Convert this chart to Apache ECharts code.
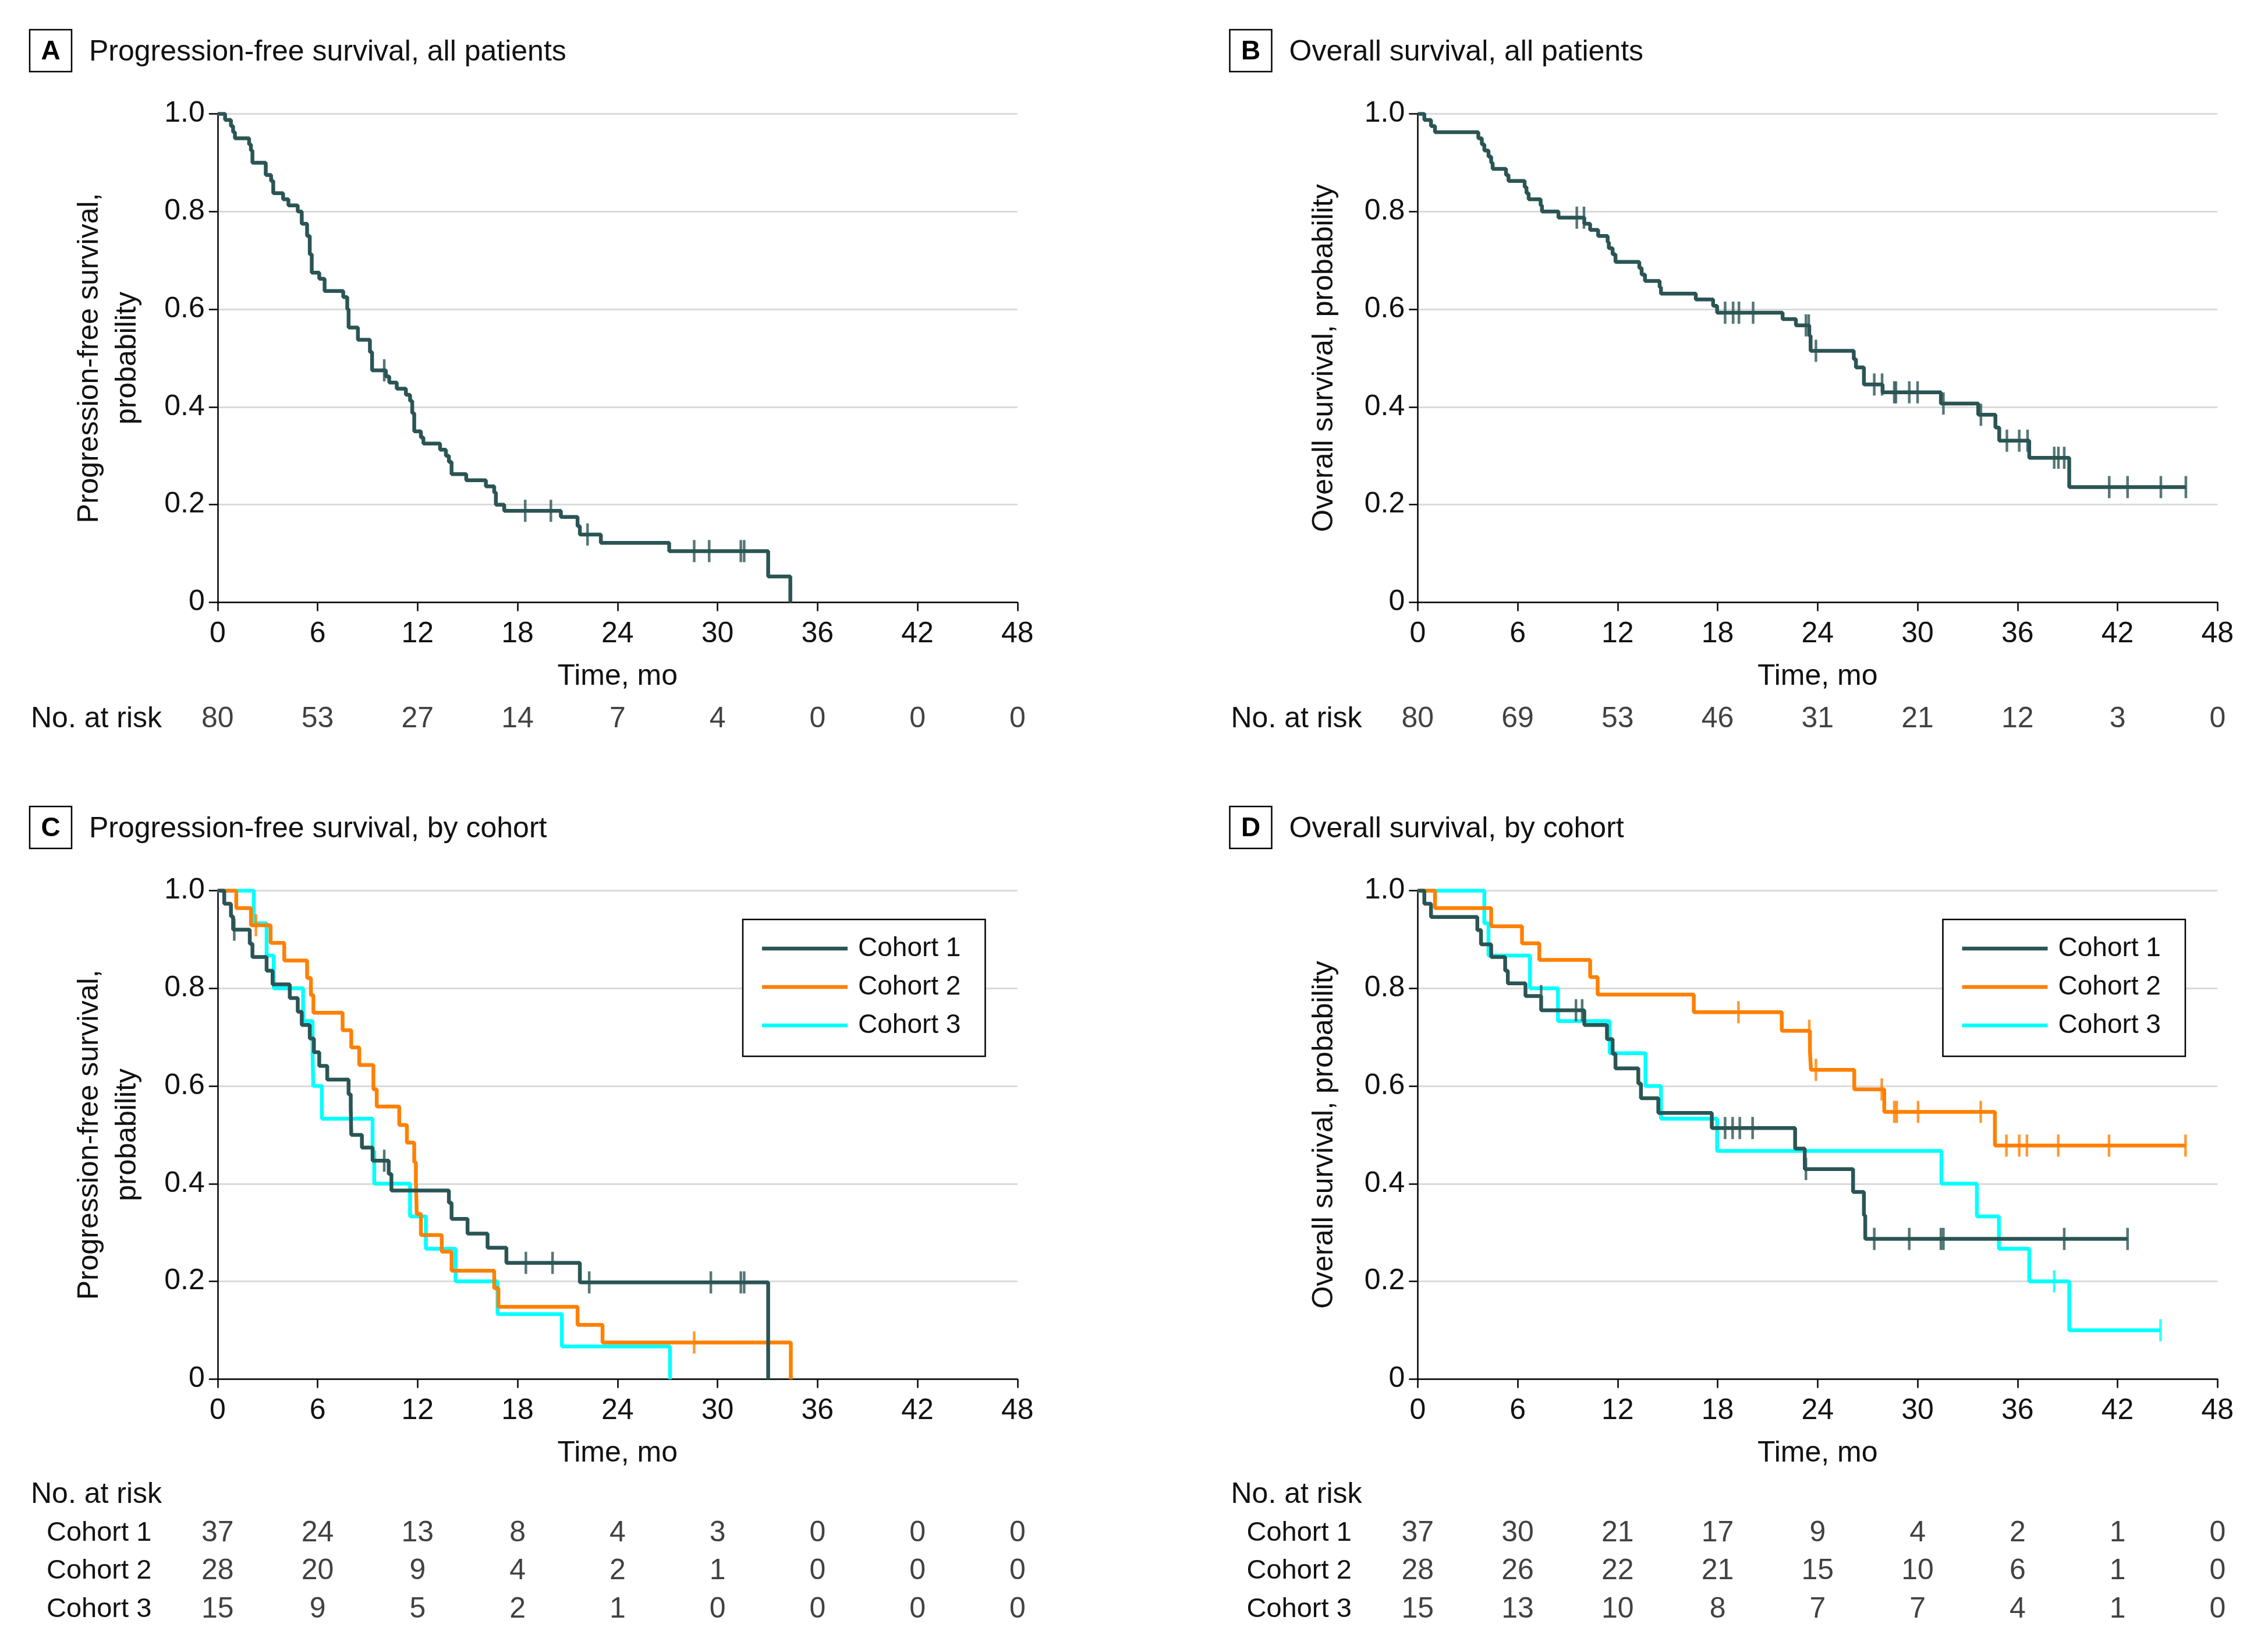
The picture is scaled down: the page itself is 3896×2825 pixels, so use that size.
<!DOCTYPE html>
<html><head><meta charset="utf-8">
<script src="https://cdn.jsdelivr.net/npm/echarts@6/dist/echarts.min.js"></script>
<style>html,body{margin:0;padding:0;background:#fff}#c{width:3896px;height:2825px}</style>
</head><body><div id="c"></div>
<script>
// ---------- DATA ----------
const timeTicks = [0, 6, 12, 18, 24, 30, 36, 42, 48];
const cohortNames = ['Cohort 1', 'Cohort 2', 'Cohort 3'];

// Panel A: PFS all patients
const pfsAllT = [0,0.45,0.8,0.93,1.04,1.89,2.0,2.09,2.89,3.21,3.34,3.93,4.25,4.81,5.05,5.37,5.53,5.65,6.1,6.42,7.54,7.78,7.86,8.42,9.14,9.27,10.1,10.3,10.75,11.3,11.55,11.68,11.8,12.2,12.35,13.35,13.7,13.88,14.04,14.92,16.1,16.6,16.7,17.2,20.6,21.6,21.74,23.0,27.1,33.04,34.37];
const pfsAllS = [1,0.9875,0.975,0.9625,0.95,0.9375,0.925,0.9,0.875,0.8625,0.8375,0.825,0.8125,0.8,0.775,0.75,0.7125,0.675,0.6625,0.6375,0.625,0.6,0.5625,0.5375,0.5125,0.475,0.4625,0.45,0.4375,0.425,0.4125,0.3875,0.35,0.3375,0.325,0.3125,0.3,0.2875,0.2625,0.25,0.2375,0.225,0.2,0.1875,0.175,0.156,0.139,0.122,0.105,0.053,0];
const pfsAllCensT = [10.0,18.46,20.0,22.2,28.6,29.5,31.4,31.6];
const pfsAllCensS = [0.475,0.1875,0.1875,0.139,0.105,0.105,0.105,0.105];
const pfsAllRisk = [80,53,27,14,7,4,0,0,0];

// Panel B: OS all patients
const osAllT = [0,0.4,0.8,1.04,3.64,3.85,4.0,4.25,4.41,4.5,5.3,5.45,6.42,6.53,6.66,7.38,7.46,8.45,10.0,10.35,10.83,11.4,11.47,11.7,11.87,13.3,13.44,13.64,14.52,14.6,16.69,17.73,17.97,21.9,22.7,23.5,23.58,26.17,26.3,26.78,27.9,31.4,33.64,34.67,34.9,36.7,39.1,46.1];
const osAllS = [1,0.9875,0.975,0.9625,0.95,0.9375,0.925,0.9125,0.9,0.8875,0.875,0.8625,0.85,0.8375,0.825,0.8125,0.8,0.7875,0.775,0.7625,0.75,0.7375,0.725,0.7125,0.697,0.6845,0.671,0.658,0.645,0.632,0.62,0.607,0.593,0.58,0.567,0.546,0.515,0.498,0.481,0.446,0.43,0.407,0.384,0.358,0.331,0.296,0.236,0.236];
const osAllCensT = [9.55,9.98,18.45,18.93,19.28,20.13,23.3,23.47,23.9,27.4,27.87,28.6,28.7,29.5,30.0,31.55,33.8,35.36,36.1,36.6,38.2,38.45,38.8,41.5,42.6,44.6,46.1];
const osAllCensS = [0.7875,0.7875,0.593,0.593,0.593,0.593,0.567,0.567,0.515,0.446,0.446,0.43,0.43,0.43,0.43,0.407,0.384,0.331,0.331,0.331,0.296,0.296,0.296,0.236,0.236,0.236,0.236];
const osAllRisk = [80,69,53,46,31,21,12,3,0];

// Panel C: PFS by cohort
const pfsC1T = [0,0.4,0.8,0.93,1.93,2.09,2.94,3.3,4.33,4.81,5.05,5.53,5.78,6.1,6.58,7.86,7.99,8.02,8.66,9.3,10.27,10.43,13.88,14.04,15.0,16.2,17.33,21.74,33.04];
const pfsC1S = [1,0.973,0.947,0.92,0.891,0.864,0.836,0.808,0.78,0.752,0.725,0.697,0.669,0.641,0.613,0.583,0.557,0.5,0.474,0.447,0.42,0.386,0.361,0.328,0.298,0.269,0.238,0.198,0];
const pfsC1CensT = [1.0,10.0,18.5,20.1,22.3,29.6,31.4,31.6];
const pfsC1CensS = [0.92,0.447,0.238,0.238,0.198,0.198,0.198,0.198];
const pfsC2T = [0,1.12,2.0,3.18,4.0,5.37,5.6,5.75,7.5,8.02,8.5,9.35,9.55,10.9,11.36,11.8,11.9,11.95,12.2,13.45,14.04,16.6,16.85,21.6,23.1,34.4];
const pfsC2S = [1,0.964,0.929,0.893,0.857,0.821,0.786,0.75,0.714,0.679,0.643,0.593,0.558,0.52,0.484,0.444,0.406,0.338,0.295,0.261,0.222,0.186,0.148,0.111,0.075,0];
const pfsC2CensT = [2.3,28.6];
const pfsC2CensS = [0.929,0.075];
const pfsC3T = [0,2.17,2.94,3.37,5.13,5.7,5.74,6.26,9.3,9.4,11.55,12.5,14.28,16.8,20.66,27.15];
const pfsC3S = [1,0.933,0.867,0.8,0.733,0.667,0.6,0.533,0.467,0.4,0.333,0.267,0.2,0.133,0.067,0];
const pfsC3CensT = [];
const pfsC3CensS = [];
const pfsRiskC1 = [37,24,13,8,4,3,0,0,0];
const pfsRiskC2 = [28,20,9,4,2,1,0,0,0];
const pfsRiskC3 = [15,9,5,2,1,0,0,0,0];

// Panel D: OS by cohort
const osC1T = [0,0.4,0.8,3.58,3.8,4.41,5.25,5.41,6.47,7.41,10.0,11.36,11.7,11.87,13.24,13.4,14.44,17.65,22.65,23.23,26.13,26.78,26.86,42.6];
const osC1S = [1,0.973,0.946,0.919,0.89,0.864,0.836,0.81,0.784,0.755,0.725,0.696,0.666,0.636,0.605,0.575,0.545,0.514,0.472,0.43,0.383,0.335,0.287,0.287];
const osC1CensT = [7.41,9.5,9.87,18.45,18.9,19.33,20.1,23.3,27.4,29.5,31.4,31.55,38.8,42.6];
const osC1CensS = [0.784,0.755,0.755,0.514,0.514,0.514,0.514,0.43,0.287,0.287,0.287,0.287,0.287,0.287];
const osC2T = [0,1.04,4.41,6.26,7.3,10.35,10.8,16.57,21.85,23.54,23.6,26.2,28.0,34.64,46.08];
const osC2S = [1,0.964,0.927,0.892,0.858,0.823,0.787,0.751,0.713,0.672,0.633,0.593,0.547,0.478,0.478];
const osC2CensT = [19.25,23.5,23.9,27.85,28.6,28.75,30.03,33.79,35.33,36.1,36.56,38.44,41.49,46.08];
const osC2CensS = [0.751,0.713,0.633,0.593,0.547,0.547,0.547,0.547,0.478,0.478,0.478,0.478,0.478,0.478];
const osC3T = [0,4.0,4.25,6.74,8.42,11.52,13.67,14.6,17.97,31.43,33.56,34.88,36.7,39.1,44.58];
const osC3S = [1,0.933,0.867,0.8,0.733,0.667,0.6,0.533,0.467,0.4,0.333,0.267,0.2,0.1,0.1];
const osC3CensT = [38.2,44.58];
const osC3CensS = [0.2,0.1];
const osRiskC1 = [37,30,21,17,9,4,2,1,0];
const osRiskC2 = [28,26,22,21,15,10,6,1,0];
const osRiskC3 = [15,13,10,8,7,7,4,1,0];

// ---------- STYLE / LAYOUT ----------
const FONT = '"Liberation Sans", Arial, "Noto Sans", sans-serif';
const TXT = '#111';
const COL = {'Cohort 1': '#2a5554', 'Cohort 2': '#ff8000', 'Cohort 3': '#00ffff', all: '#2a5554'};
const LW = 6.5;
const PX = [373.8, 2435.3];
const PY = [195.5, 1529.4];
const PW = 1374, PH = 839;
const OX = 2061.5, OY = 1333.9;
const LABEL_INSET = 320.8; // distance from plot left edge to risk-table labels

const grids = [], xAxes = [], yAxes = [], series = [], graphics = [], legends = [];

function pair(ts, ss) { return ts.map((t, i) => [t, ss[i]]); }

function addPlot(idx, left, top, yName, yGap) {
  grids.push({left: left, top: top, width: PW, height: PH});
  xAxes.push({
    gridIndex: idx, type: 'value', min: 0, max: 48, interval: 6,
    name: 'Time, mo', nameLocation: 'middle', nameGap: 103,
    nameTextStyle: {fontSize: 50, color: TXT, fontFamily: FONT},
    axisLine: {show: true, onZero: false, lineStyle: {color: '#000', width: 2.5}},
    axisTick: {show: true, length: 15, lineStyle: {color: '#000', width: 2.5}},
    axisLabel: {fontSize: 50, color: TXT, fontFamily: FONT, margin: 30},
    splitLine: {show: false}
  });
  yAxes.push({
    gridIndex: idx, type: 'value', min: 0, max: 1, interval: 0.2,
    name: yName, nameLocation: 'middle', nameGap: yGap,
    nameTextStyle: {fontSize: 50, color: TXT, fontFamily: FONT, lineHeight: 65},
    axisLine: {show: true, lineStyle: {color: '#000', width: 2.5}},
    axisTick: {show: true, length: 15, lineStyle: {color: '#000', width: 2.5}},
    axisLabel: {fontSize: 50, color: TXT, fontFamily: FONT, margin: 22,
      formatter: v => v === 0 ? '0' : v.toFixed(1)},
    splitLine: {show: true, lineStyle: {color: '#dadada', width: 3}}
  });
}

function addRisk(idx, left, top, rows, rowH) {
  grids.push({left: left, top: top, width: PW, height: rows.length * rowH});
  xAxes.push({gridIndex: idx, type: 'value', min: 0, max: 48, interval: 6, show: false});
  yAxes.push({
    gridIndex: idx, type: 'category', data: rows, inverse: true,
    axisLine: {show: false}, axisTick: {show: false}, splitLine: {show: false},
    axisLabel: {show: true, align: 'left', margin: LABEL_INSET, color: TXT, fontFamily: FONT,
      formatter: v => v === 'No. at risk' ? '{h|' + v + '}' : '{c|' + v + '}',
      rich: {h: {fontSize: 50, fontFamily: FONT, color: TXT},
             c: {fontSize: 47, fontFamily: FONT, color: TXT, padding: [0, 0, 0, 27]}}}
  });
}

function addCurve(ax, name, ts, ss, color, z) {
  series.push({
    type: 'line', name: name, xAxisIndex: ax, yAxisIndex: ax, step: 'end',
    data: pair(ts, ss), showSymbol: false, symbol: 'none', color: color,
    lineStyle: {color: color, width: LW}, itemStyle: {color: color},
    z: z, animation: false, silent: true
  });
}
function addCens(ax, name, ts, ss, color, z) {
  if (!ts.length) return;
  series.push({
    type: 'scatter', name: name + ' censored', xAxisIndex: ax, yAxisIndex: ax,
    data: pair(ts, ss), symbol: 'rect', symbolSize: [4.5, 38],
    itemStyle: {color: color}, z: z, animation: false, silent: true
  });
}
function addRiskRow(ax, row, vals) {
  series.push({
    type: 'scatter', xAxisIndex: ax, yAxisIndex: ax, symbolSize: 1,
    itemStyle: {color: 'rgba(0,0,0,0)'},
    data: vals.map((v, i) => [timeTicks[i], row, v]),
    label: {show: true, position: 'inside', formatter: p => String(p.value[2]),
      fontSize: 50, color: TXT, fontFamily: FONT},
    animation: false, silent: true
  });
}

function addTitle(ox, oy, letter, text) {
  graphics.push({type: 'rect', shape: {x: 51 + ox, y: 51 + oy, width: 72, height: 72},
    style: {fill: '#fff', stroke: '#000', lineWidth: 2.5}});
  graphics.push({type: 'text', x: 87 + ox, y: 89 + oy,
    style: {text: letter, font: 'bold 46px ' + FONT, fill: '#000', align: 'center', verticalAlign: 'middle'}});
  graphics.push({type: 'text', x: 153 + ox, y: 90 + oy,
    style: {text: text, font: '50px ' + FONT, fill: TXT, align: 'left', verticalAlign: 'middle'}});
}

// plot grids 0..3
addPlot(0, PX[0], PY[0], 'Progression-free survival,\nprobability', 122);
addPlot(1, PX[1], PY[0], 'Overall survival, probability', 128);
addPlot(2, PX[0], PY[1], 'Progression-free survival,\nprobability', 122);
addPlot(3, PX[1], PY[1], 'Overall survival, probability', 128);
// risk grids 4..7
addRisk(4, PX[0], 1203, ['No. at risk'], 64);
addRisk(5, PX[1], 1203, ['No. at risk'], 64);
addRisk(6, PX[0], 2535, ['No. at risk'].concat(cohortNames), 65.4);
addRisk(7, PX[1], 2535, ['No. at risk'].concat(cohortNames), 65.4);

// Panel A / B
addCurve(0, 'All', pfsAllT, pfsAllS, COL.all, 5);
addCens(0, 'All', pfsAllCensT, pfsAllCensS, COL.all, 6);
addCurve(1, 'All', osAllT, osAllS, COL.all, 5);
addCens(1, 'All', osAllCensT, osAllCensS, COL.all, 6);
// Panel C (draw cohort 3, 2, 1 so cohort 1 on top)
addCurve(2, 'Cohort 3', pfsC3T, pfsC3S, COL['Cohort 3'], 3);
addCens(2, 'Cohort 3', pfsC3CensT, pfsC3CensS, COL['Cohort 3'], 3);
addCurve(2, 'Cohort 2', pfsC2T, pfsC2S, COL['Cohort 2'], 4);
addCens(2, 'Cohort 2', pfsC2CensT, pfsC2CensS, COL['Cohort 2'], 4);
addCurve(2, 'Cohort 1', pfsC1T, pfsC1S, COL['Cohort 1'], 5);
addCens(2, 'Cohort 1', pfsC1CensT, pfsC1CensS, COL['Cohort 1'], 5);
// Panel D
addCurve(3, 'Cohort 3', osC3T, osC3S, COL['Cohort 3'], 3);
addCens(3, 'Cohort 3', osC3CensT, osC3CensS, COL['Cohort 3'], 3);
addCurve(3, 'Cohort 2', osC2T, osC2S, COL['Cohort 2'], 4);
addCens(3, 'Cohort 2', osC2CensT, osC2CensS, COL['Cohort 2'], 4);
addCurve(3, 'Cohort 1', osC1T, osC1S, COL['Cohort 1'], 5);
addCens(3, 'Cohort 1', osC1CensT, osC1CensS, COL['Cohort 1'], 5);

// risk tables
addRiskRow(4, 'No. at risk', pfsAllRisk);
addRiskRow(5, 'No. at risk', osAllRisk);
addRiskRow(6, 'Cohort 1', pfsRiskC1);
addRiskRow(6, 'Cohort 2', pfsRiskC2);
addRiskRow(6, 'Cohort 3', pfsRiskC3);
addRiskRow(7, 'Cohort 1', osRiskC1);
addRiskRow(7, 'Cohort 2', osRiskC2);
addRiskRow(7, 'Cohort 3', osRiskC3);

// titles
addTitle(0, 0, 'A', 'Progression-free survival, all patients');
addTitle(OX, 0, 'B', 'Overall survival, all patients');
addTitle(0, OY, 'C', 'Progression-free survival, by cohort');
addTitle(OX, OY, 'D', 'Overall survival, by cohort');

// legends
[1276, 1276 + OX].forEach(lx => legends.push({
  data: cohortNames, orient: 'vertical', left: lx, top: 1579,
  padding: [25, 42, 28, 33], borderColor: '#000', borderWidth: 2.5,
  backgroundColor: '#fff', icon: 'rect', itemWidth: 147, itemHeight: 6.5, itemGap: 16,
  selectedMode: false,
  textStyle: {fontSize: 46, fontFamily: FONT, color: TXT, lineHeight: 50, padding: [0, 0, 0, 13]}
}));

const chart = echarts.init(document.getElementById('c'), null, {renderer: 'canvas', width: 3896, height: 2825});
chart.setOption({
  backgroundColor: '#fff',
  animation: false,
  textStyle: {fontFamily: FONT},
  grid: grids, xAxis: xAxes, yAxis: yAxes, series: series,
  legend: legends, graphic: graphics
});
</script></body></html>
